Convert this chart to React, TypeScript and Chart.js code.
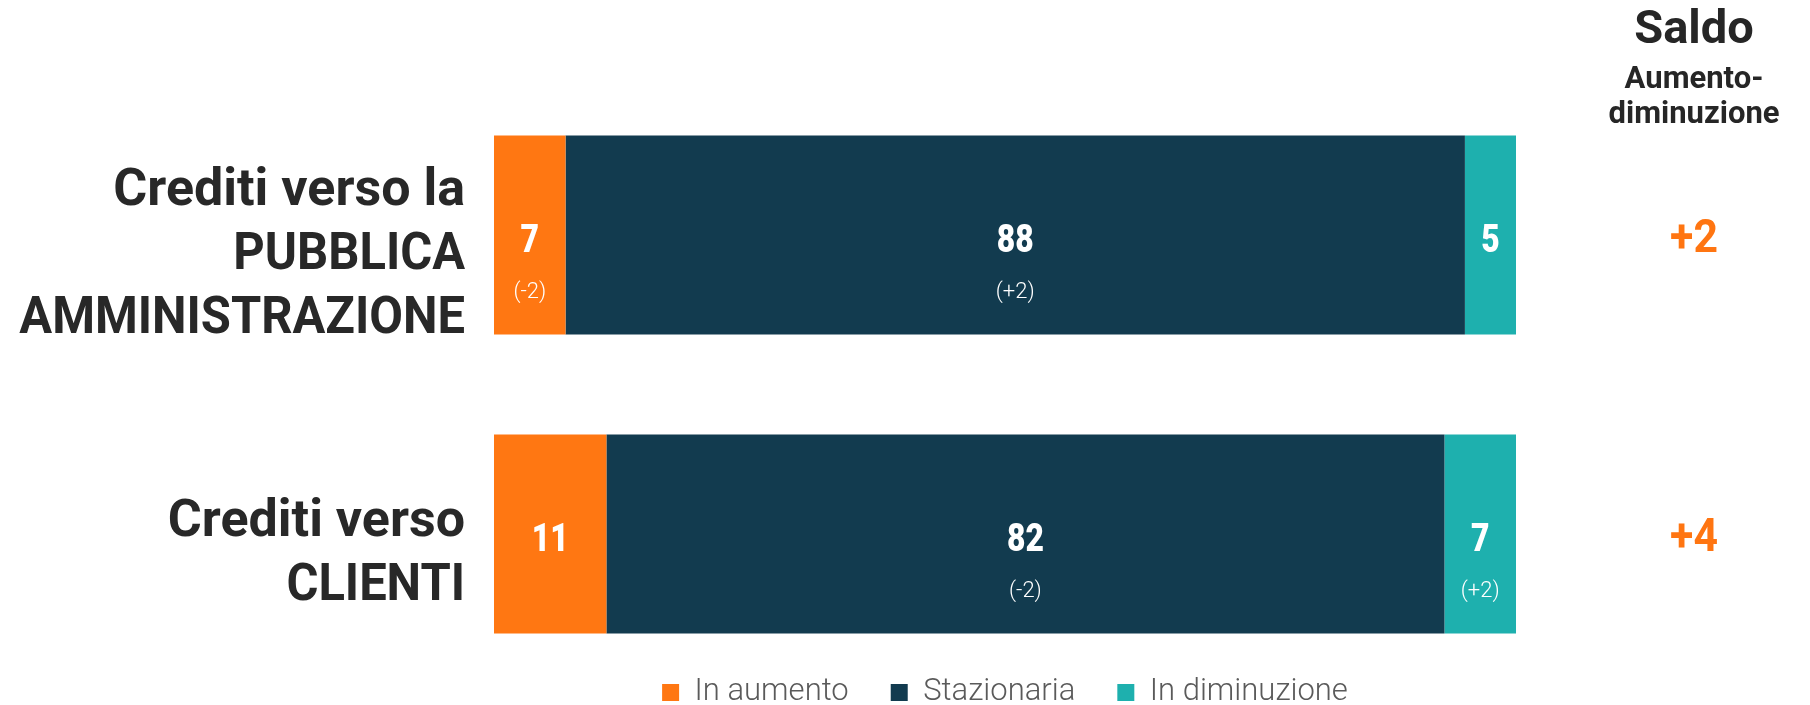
import React, { useEffect, useRef } from "react";
import { Chart, registerables } from "chart.js";

Chart.register(...registerables);

// ---- data ----
const categories: string[][] = [
  ["Crediti verso la", "PUBBLICA", "AMMINISTRAZIONE"],
  ["Crediti verso", "CLIENTI"],
];
const seriesNames = ["In aumento", "Stazionaria", "In diminuzione"];
const inAumento = [7, 11];
const stazionaria = [88, 82];
const inDiminuzione = [5, 7];
const deltaAumento = ["(-2)", ""];
const deltaStazionaria = ["(+2)", "(-2)"];
const deltaDiminuzione = ["", "(+2)"];
const saldo = [2, 4];
const saldoTitle = "Saldo";
const saldoSubtitle = ["Aumento-", "diminuzione"];

const seriesColors = ["#FF7712", "#123B4F", "#1EB0AE"];
const deltas = [deltaAumento, deltaStazionaria, deltaDiminuzione];

const W = 1810;
const H = 718;

function drawScaled(ctx: CanvasRenderingContext2D, text: string, x: number, y: number, sx: number) {
  ctx.save();
  ctx.translate(x, y);
  ctx.scale(sx, 1);
  ctx.fillText(text, 0, 0);
  ctx.restore();
}

const labelsPlugin = {
  id: "customLabels",
  afterDatasetsDraw(chart: any) {
    const ctx: CanvasRenderingContext2D = chart.ctx;
    const yScale = chart.scales.y;
    const area = chart.chartArea;

    // category labels (left)
    ctx.save();
    ctx.fillStyle = "#282828";
    ctx.textAlign = "right";
    ctx.textBaseline = "alphabetic";
    ctx.font = "bold 52px Roboto";
    (chart.data.labels as string[][]).forEach((lab, i) => {
      const lines = Array.isArray(lab) ? lab : [lab];
      const cy = yScale.getPixelForValue(i) + 15;
      const lh = 64;
      lines.forEach((line, k) => {
        const capCenter = cy + (k - (lines.length - 1) / 2) * lh;
        const allCaps = line === line.toUpperCase();
        drawScaled(ctx, line, area.left - 29, capCenter + 18.5, allCaps ? 0.94 : 1.0);
      });
    });
    ctx.restore();

    // segment labels
    chart.data.datasets.forEach((ds: any, di: number) => {
      const meta = chart.getDatasetMeta(di);
      meta.data.forEach((bar: any, i: number) => {
        const p = bar.getProps(["x", "y", "base"], true);
        const cx = (p.x + p.base) / 2;
        const cy = p.y;
        ctx.save();
        ctx.fillStyle = "#FFFFFF";
        ctx.textAlign = "center";
        ctx.textBaseline = "alphabetic";
        ctx.font = "900 38px Roboto";
        drawScaled(ctx, String(ds.data[i]), cx, cy + 3 + 13.5, 0.84);
        const d = deltas[di][i];
        if (d) {
          ctx.font = "300 22px Roboto";
          drawScaled(ctx, d, cx, cy + 56 + 7, 1);
        }
        ctx.restore();
      });
    });

    // saldo column
    const sx = area.right + 178;
    ctx.save();
    ctx.textAlign = "center";
    ctx.textBaseline = "alphabetic";
    ctx.fillStyle = "#262626";
    ctx.font = "bold 47px Roboto";
    ctx.fillText(saldoTitle, sx, 43);
    ctx.font = "bold 31px Roboto";
    ctx.fillText(saldoSubtitle[0], sx, 88);
    ctx.fillText(saldoSubtitle[1], sx, 123);
    ctx.fillStyle = "#FF7511";
    ctx.font = "bold 46px Roboto";
    saldo.forEach((v, i) => {
      const cy = yScale.getPixelForValue(i) + 1;
      const txt = (v > 0 ? "+" : "") + String(v);
      drawScaled(ctx, txt, sx, cy + 16.4, 0.93);
    });
    ctx.restore();
  },
};

export default function App() {
  const ref = useRef<HTMLCanvasElement | null>(null);

  useEffect(() => {
    if (!ref.current) return;
    const datasetsData = [inAumento, stazionaria, inDiminuzione];
    const chart = new Chart(ref.current, {
      type: "bar",
      data: {
        labels: categories as any,
        datasets: datasetsData.map((d, i) => ({
          label: seriesNames[i],
          data: d,
          backgroundColor: seriesColors[i],
          borderWidth: 0,
          categoryPercentage: 1,
          barPercentage: 0.666,
          clip: false as any,
        })),
      },
      options: {
        indexAxis: "y",
        responsive: false,
        animation: false,
        devicePixelRatio: 1,
        events: [],
        layout: { padding: { top: 235, left: 494, right: 294, bottom: 0 } },
        scales: {
          x: {
            stacked: true,
            min: 0,
            max: 100,
            display: true,
            ticks: { display: false },
            grid: { display: false },
            border: { display: false },
            afterFit: (s: any) => {
              s.height = 101;
            },
          },
          y: {
            stacked: true,
            offset: false,
            display: false,
          },
        },
        plugins: {
          tooltip: { enabled: false },
          legend: {
            display: true,
            position: "bottom",
            labels: {
              boxWidth: 17,
              boxHeight: 17,
              padding: 42,
              color: "#5A5A5A",
              font: { family: "Roboto", size: 31, weight: 300 as any },
            },
          },
        },
      },
      plugins: [labelsPlugin],
    });
    return () => chart.destroy();
  }, []);

  return (
    <div
      style={{
        position: "fixed",
        left: 0,
        top: 0,
        width: W,
        height: 705,
        overflow: "hidden",
        background: "#FFFFFF",
      }}
    >
      <canvas ref={ref} width={W} height={H} style={{ display: "block", width: W, height: H }} />
    </div>
  );
}
